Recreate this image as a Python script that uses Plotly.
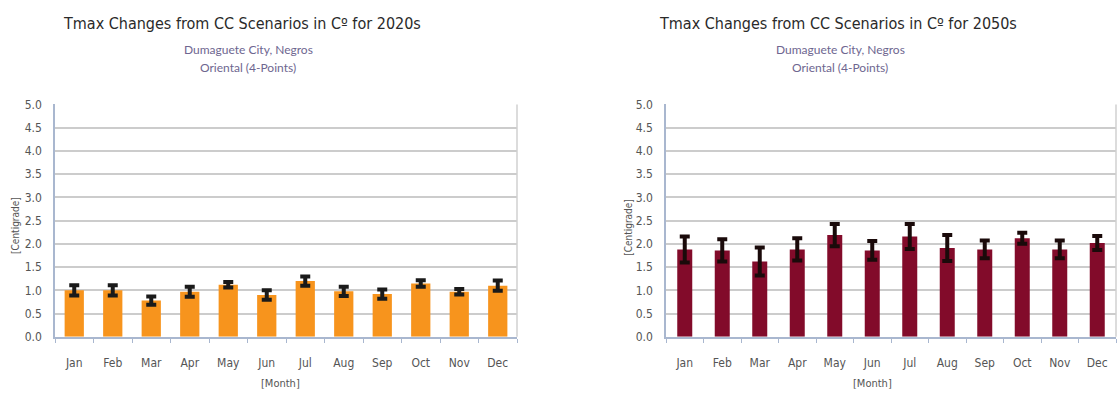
import plotly.graph_objects as go

months = ["Jan", "Feb", "Mar", "Apr", "May", "Jun", "Jul", "Aug", "Sep", "Oct", "Nov", "Dec"]
tmax_2020s = [1.00, 1.00, 0.78, 0.97, 1.12, 0.90, 1.20, 0.98, 0.92, 1.15, 0.97, 1.10]
err_2020s = [0.11, 0.11, 0.09, 0.11, 0.06, 0.10, 0.10, 0.10, 0.10, 0.07, 0.06, 0.11]
tmax_2050s = [1.88, 1.86, 1.62, 1.88, 2.19, 1.86, 2.16, 1.91, 1.88, 2.12, 1.88, 2.02]
err_2050s = [0.28, 0.24, 0.30, 0.24, 0.24, 0.20, 0.27, 0.28, 0.19, 0.12, 0.19, 0.15]
y_ticks = [0.0, 0.5, 1.0, 1.5, 2.0, 2.5, 3.0, 3.5, 4.0, 4.5, 5.0]

W, H = 1117, 394
FONT = "DejaVu Sans Condensed, Liberation Sans Narrow, Liberation Sans, Arial, sans-serif"
SUBFONT = "Lato, Open Sans, sans-serif"

fig = go.Figure()
fig.add_trace(go.Bar(
    x=months, y=tmax_2020s, marker=dict(color="#f7941d", line=dict(width=0)),
    error_y=dict(type="data", array=err_2020s, color="#1a1a1a", thickness=4, width=5),
    xaxis="x", yaxis="y", showlegend=False))
fig.add_trace(go.Bar(
    x=months, y=tmax_2050s, marker=dict(color="#820b2a", line=dict(width=0)),
    error_y=dict(type="data", array=err_2050s, color="#1a0a0a", thickness=4, width=5),
    xaxis="x2", yaxis="y2", showlegend=False, width=0.4))

ydom = [(H - 342) / H, (H - 101) / H]
xd1 = [55 / W, 517 / W]
xd2 = [666 / W, 1116 / W]

def xax(dom, anchor):
    return dict(domain=dom, anchor=anchor, type="category", showgrid=False,
                showline=True, linecolor="#a9b7cf", linewidth=1.5,
                ticks="outside", tickson="boundaries", ticklen=4, tickcolor="#a9b7cf",
                ticklabelstandoff=14,
                tickfont=dict(family=FONT, size=12, color="#555555"))

def yax(anchor):
    return dict(domain=ydom, anchor=anchor, range=[0, 5], tickvals=y_ticks,
                ticktext=[f"{v:.1f}" for v in y_ticks], showgrid=True,
                gridcolor="#cccccc", gridwidth=1.5, showline=True,
                linecolor="#a9b7cf", linewidth=1.5, zeroline=False,
                ticks="", ticklabelstandoff=9,
                tickfont=dict(family=FONT, size=12, color="#555555"))

fig.update_layout(
    width=W, height=H, autosize=False,
    margin=dict(l=0, r=0, t=0, b=0),
    paper_bgcolor="white", plot_bgcolor="white",
    bargap=0.5,
    xaxis=xax(xd1, "y"), yaxis=yax("x"),
    xaxis2=xax(xd2, "y2"), yaxis2=yax("x2"),
)

# right border of plot frames
for xr, yr in (("x domain", "y domain"), ("x2 domain", "y2 domain")):
    fig.add_shape(type="line", xref=xr, yref=yr, x0=1, x1=1, y0=0, y1=1,
                  line=dict(color="#d0d0d0", width=1.5))

def px(x):
    return x / W

def py(y):
    return 1 - y / H

ann = []
for cx, scx, title in ((242, 248, "Tmax Changes from CC Scenarios in C\u00ba for 2020s"),
                        (838, 840, "Tmax Changes from CC Scenarios in C\u00ba for 2050s")):
    ann.append(dict(x=px(cx), y=py(17), text=title, showarrow=False, xref="paper", yref="paper",
                    font=dict(family=FONT, size=16, color="#2a2a2a"), xanchor="center", yanchor="middle"))
    ann.append(dict(x=px(scx), y=py(44), text="Dumaguete City, Negros", showarrow=False,
                    xref="paper", yref="paper",
                    font=dict(family=SUBFONT, size=12, color="#6e6690"), xanchor="center", yanchor="middle"))
    ann.append(dict(x=px(scx), y=py(63), text="Oriental (4-Points)", showarrow=False,
                    xref="paper", yref="paper",
                    font=dict(family=SUBFONT, size=12, color="#6e6690"), xanchor="center", yanchor="middle"))
for cx, cy in ((16, 227), (629, 229)):
    ann.append(dict(x=px(cx), y=py(cy), text="[Centigrade]", showarrow=False, textangle=-90,
                    xref="paper", yref="paper",
                    font=dict(family=FONT, size=10, color="#555555"), xanchor="center", yanchor="middle"))
for cx in (280, 872):
    ann.append(dict(x=px(cx), y=py(390), text="[Month]", showarrow=False,
                    xref="paper", yref="paper",
                    font=dict(family=FONT, size=11, color="#555555"), xanchor="center", yanchor="middle"))
fig.update_layout(annotations=ann)

fig.write_html("out.html")
